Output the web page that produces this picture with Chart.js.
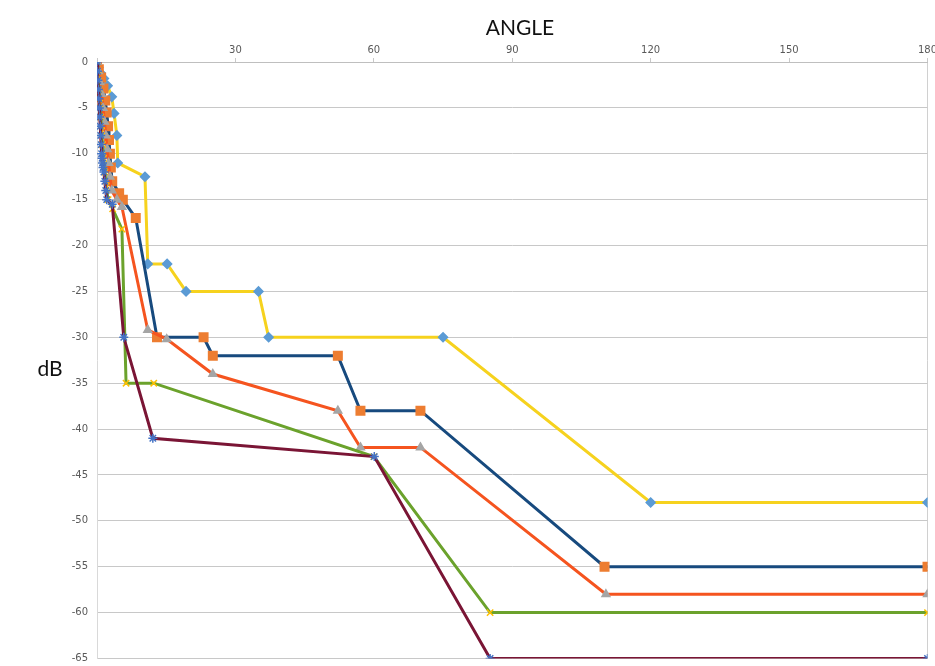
<!DOCTYPE html>
<html><head><meta charset="utf-8">
<script src="https://cdn.jsdelivr.net/npm/chart.js@4/dist/chart.umd.min.js"></script>
<style>
html,body{margin:0;padding:0;background:#fff;}
#wrap{position:relative;width:935px;height:666px;overflow:hidden;}
#c{position:absolute;left:0;top:0;}
#title{position:absolute;left:420px;width:200px;top:14px;text-align:center;font:21px Lato, sans-serif;color:#111;}
#ylab{position:absolute;left:25px;width:50px;top:355px;text-align:center;font:21px Lato, sans-serif;color:#111;}
</style></head>
<body>
<div id="wrap">
<canvas id="c" width="935" height="666"></canvas>
<div id="title">ANGLE</div>
<div id="ylab">dB</div>
</div>
<script>
// Angle ticks
const xTicks = [0, 30, 60, 90, 120, 150, 180];
const yTicks = [0, -5, -10, -15, -20, -25, -30, -35, -40, -45, -50, -55, -60, -65];

// Series 1 (yellow line, blue diamonds)
const s1Angle = [0, 0.3, 0.8, 1.5, 2.3, 3.2, 3.7, 4.3, 4.5, 10.4, 11, 15.2, 19.3, 35, 37.2, 75, 120, 180];
const s1dB    = [0, -0.6, -1.2, -1.8, -2.6, -3.8, -5.6, -8, -11, -12.5, -22, -22, -25, -25, -30, -30, -48, -48];

// Series 2 (navy line, orange squares)
const s2Angle = [0, 0.4, 0.9, 1.4, 1.8, 2.1, 2.4, 2.6, 2.8, 3.0, 3.3, 4.8, 5.6, 8.4, 13, 23.1, 25.1, 52.2, 57.1, 70.1, 110, 180];
const s2dB    = [0, -0.8, -1.7, -2.9, -4.2, -5.5, -7, -8.5, -10, -11.5, -13, -14.3, -15, -17, -30, -30, -32, -32, -38, -38, -55, -55];

// Series 3 (orange-red line, grey triangles)
const s3Angle = [0, 0.3, 0.6, 1.0, 1.3, 1.6, 1.9, 2.2, 2.5, 2.8, 3.2, 4.3, 5.4, 11, 15.1, 25.1, 52.2, 57.1, 70.1, 110.3, 180];
const s3dB    = [0, -1, -2.2, -3.5, -5, -6.5, -8, -9.5, -11, -12.5, -14, -15, -15.8, -29.2, -30.2, -34, -38, -42, -42, -58, -58];

// Series 4 (green line, yellow crosses)
const s4Angle = [0, 0.2, 0.4, 0.6, 0.8, 1.0, 1.2, 1.4, 1.7, 2.0, 2.4, 3.4, 5.4, 6.3, 12.3, 60, 85.2, 180];
const s4dB    = [0, -1.5, -3, -4.5, -6, -7.5, -9, -10.5, -12, -13.5, -15, -16, -18.2, -35, -35, -43, -60, -60];

// Series 5 (maroon line, blue stars)
const s5Angle = [0, 0.1, 0.2, 0.3, 0.4, 0.5, 0.6, 0.7, 0.8, 0.9, 1.0, 1.1, 1.2, 1.3, 1.5, 1.7, 1.9, 2.1, 3.3, 5.8, 12.1, 60.1, 85.2, 180];
const s5dB    = [0, -1, -2, -3, -4, -5, -6, -7, -8, -9, -10, -10.5, -11, -11.5, -12, -13, -14, -15, -15.5, -30, -41, -43, -65, -65];

function pts(a, b) { return a.map((v, i) => ({x: v, y: b[i]})); }

const series = [
  {d: pts(s1Angle, s1dB), line: '#F6D21E', mk: '#5B9BD5', style: 'rectRot', r: 4.5},
  {d: pts(s2Angle, s2dB), line: '#174A7E', mk: '#ED7D31', style: 'rect', r: 6},
  {d: pts(s3Angle, s3dB), line: '#F5541F', mk: '#A5A5A5', style: 'triangle', r: 4.5},
  {d: pts(s4Angle, s4dB), line: '#6BA22C', mk: '#FFC000', style: 'crossRot', r: 4.5},
  {d: pts(s5Angle, s5dB), line: '#7A1535', mk: '#4472C4', style: 'star', r: 4.5}
];

const datasets = series.map((s, i) => ({
  label: 'Series' + (i + 1),
  data: s.d,
  showLine: true,
  tension: 0,
  borderColor: s.line,
  borderWidth: 3,
  pointStyle: s.style,
  pointRadius: s.r,
  pointBackgroundColor: s.mk,
  pointBorderColor: s.mk,
  pointBorderWidth: 1.5,
  order: 5 - i
}));

new Chart(document.getElementById('c'), {
  type: 'scatter',
  data: {datasets},
  options: {
    responsive: false,
    animation: false,
    layout: {padding: {top: 0, right: 6, bottom: 3, left: 0}},
    plugins: {legend: {display: false}, title: {display: false}, tooltip: {enabled: false}},
    scales: {
      x: {
        type: 'linear', position: 'top', min: 0, max: 180,
        afterBuildTicks: s => { s.ticks = xTicks.map(v => ({value: v})); },
        ticks: {
          color: '#595959', font: {family: 'DejaVu Sans', size: 10}, padding: 2,
          maxRotation: 0, autoSkip: false,
          callback: v => v === 0 ? '' : String(v)
        },
        grid: {
          color: c => (c.tick && c.tick.value === 180) ? '#D0D0D0' : 'rgba(0,0,0,0)',
          tickColor: '#C8C8C8', tickLength: 4, drawTicks: true
        },
        border: {color: '#BFBFBF', width: 1},
        afterFit: s => { s.height = 62; s.paddingLeft = 0; s.paddingRight = 0; }
      },
      y: {
        type: 'linear', min: -65, max: 0,
        afterBuildTicks: s => { s.ticks = yTicks.map(v => ({value: v})); },
        ticks: {color: '#595959', font: {family: 'DejaVu Sans', size: 10}, padding: 9, autoSkip: false},
        grid: {color: '#C8C8C8', drawTicks: false},
        border: {color: '#D9D9D9', width: 1},
        afterFit: s => { s.width = 97; s.paddingTop = 0; s.paddingBottom = 0; }
      }
    }
  }
});
</script>
</body></html>
